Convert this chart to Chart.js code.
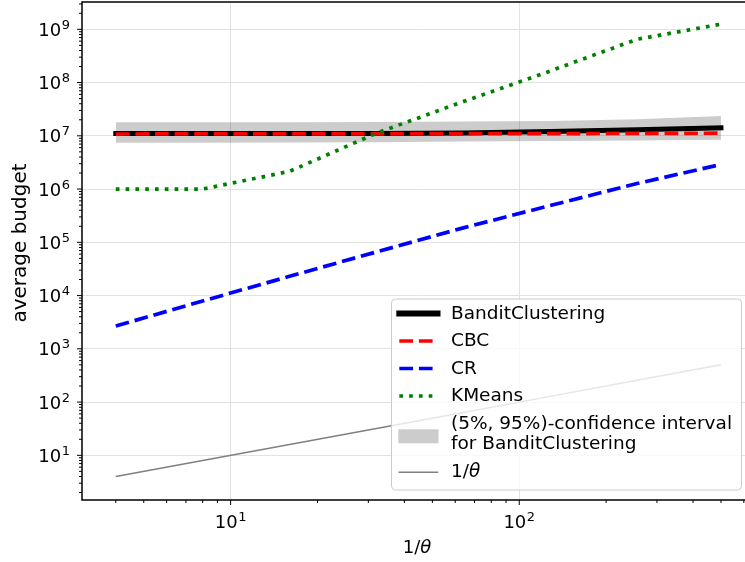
<!DOCTYPE html>
<html>
<head>
<meta charset="utf-8">
<script src="https://cdn.jsdelivr.net/npm/chart.js@4.4.1/dist/chart.umd.min.js"></script>
<style>
  html, body { margin: 0; padding: 0; background: #fff; overflow: hidden; }
  #wrap { width: 745px; height: 562px; overflow: hidden; }
</style>
</head>
<body>
<div id="wrap"><canvas id="chart" width="753" height="562"></canvas></div>
<script>
// x = 1/theta
const thetaInv = [4, 8, 16, 32, 64, 128, 256, 500];
const banditClustering = [1.1e7, 1.1e7, 1.1e7, 1.1e7, 1.13e7, 1.2e7, 1.3e7, 1.42e7];
const cbc = [1.08e7, 1.09e7, 1.09e7, 1.09e7, 1.1e7, 1.1e7, 1.11e7, 1.12e7];
const cr = [2680, 7900, 2.3e4, 6.6e4, 1.87e5, 4.9e5, 1.27e6, 2.9e6];
const kmeans = [1e6, 1e6, 2.15e6, 1.12e7, 4.4e7, 1.65e8, 6.5e8, 1.25e9];
const ciLow = [7.4e6, 7.4e6, 7.5e6, 7.6e6, 7.8e6, 8.0e6, 8.2e6, 8.4e6];
const ciHigh = [1.79e7, 1.8e7, 1.8e7, 1.82e7, 1.85e7, 1.9e7, 2.05e7, 2.35e7];
const oneOverTheta = [4, 8, 16, 32, 64, 128, 256, 500];

const xMajorTicks = [10, 100];
const yMajorTicks = [1e1, 1e2, 1e3, 1e4, 1e5, 1e6, 1e7, 1e8, 1e9];

// axis limits (log scale, matplotlib-like margins; right spine falls just off the page)
const X_MIN = Math.pow(10, 0.485), X_MAX = Math.pow(10, 2.803);
const Y_MIN = Math.pow(10, 0.161), Y_MAX = Math.pow(10, 9.513);

const FONT = 'DejaVu Sans';
const LEGEND_FONT = '18.5px "' + FONT + '"';

function isPow10(v) {
  const l = Math.log10(v);
  return Math.abs(l - Math.round(l)) < 1e-9;
}
// major + minor (2..9 x 10^n) ticks inside [lo, hi]
function logTicks(lo, hi) {
  const out = [];
  for (let e = Math.floor(Math.log10(lo)); e <= Math.ceil(Math.log10(hi)); e++) {
    for (let m = 1; m <= 9; m++) {
      const v = m * Math.pow(10, e);
      if (v >= lo && v <= hi) out.push(v);
    }
  }
  return out;
}

const pts = ys => thetaInv.map((x, i) => ({x: x, y: ys[i]}));

// "10" + raised exponent, like matplotlib's mathtext tick labels
function drawPowLabel(ctx, v, x, baseline, align) {
  const e = String(Math.round(Math.log10(v)));
  ctx.font = '18px "' + FONT + '"';
  const wb = ctx.measureText('10').width;
  ctx.font = '13px "' + FONT + '"';
  const we = ctx.measureText(e).width;
  const total = wb + 0.5 + we;
  const left = align === 'right' ? x - total : x - total / 2;
  ctx.textAlign = 'left';
  ctx.textBaseline = 'alphabetic';
  ctx.font = '18px "' + FONT + '"';
  ctx.fillText('10', left, baseline);
  ctx.font = '13px "' + FONT + '"';
  ctx.fillText(e, left + wb + 0.5, baseline - 7);
}

const axisDecor = {
  id: 'axisDecor',
  afterDraw(chart) {
    const {ctx, chartArea: a, scales: {x, y}} = chart;
    ctx.save();
    ctx.strokeStyle = '#000';
    ctx.lineWidth = 1;
    ctx.beginPath();
    x.ticks.forEach(t => {
      const px = x.getPixelForValue(t.value);
      const len = isPow10(t.value) ? 5 : 3;
      ctx.moveTo(px, a.bottom);
      ctx.lineTo(px, a.bottom + len);
    });
    y.ticks.forEach(t => {
      const py = y.getPixelForValue(t.value);
      const len = isPow10(t.value) ? 5 : 3;
      ctx.moveTo(a.left, py);
      ctx.lineTo(a.left - len, py);
    });
    ctx.stroke();

    // spines
    ctx.lineWidth = 1.5;
    ctx.strokeRect(a.left, a.top, a.right - a.left, a.bottom - a.top);

    // tick labels
    ctx.fillStyle = '#000';
    xMajorTicks.forEach(v => drawPowLabel(ctx, v, x.getPixelForValue(v), a.bottom + 28, 'center'));
    yMajorTicks.forEach(v => drawPowLabel(ctx, v, 70, y.getPixelForValue(v) + 6.5, 'right'));

    // axis titles
    ctx.font = '18px "' + FONT + '"';
    ctx.textBaseline = 'middle';
    ctx.textAlign = 'left';
    const w1 = ctx.measureText('1/').width;
    ctx.font = 'italic 18px "' + FONT + '"';
    const w2 = ctx.measureText('θ').width;
    const tx = 417 - (w1 + w2) / 2;
    ctx.font = '18px "' + FONT + '"';
    ctx.fillText('1/', tx, 548);
    ctx.font = 'italic 18px "' + FONT + '"';
    ctx.fillText('θ', tx + w1, 548);

    ctx.save();
    ctx.font = '20px "' + FONT + '"';
    ctx.translate(21, 243);
    ctx.rotate(-Math.PI / 2);
    ctx.textAlign = 'center';
    ctx.fillText('average budget', 0, 0);
    ctx.restore();
    ctx.restore();

    drawLegend(chart);
  }
};

function roundRectPath(ctx, x, y, w, h, r) {
  ctx.beginPath();
  ctx.moveTo(x + r, y);
  ctx.lineTo(x + w - r, y);
  ctx.arcTo(x + w, y, x + w, y + r, r);
  ctx.lineTo(x + w, y + h - r);
  ctx.arcTo(x + w, y + h, x + w - r, y + h, r);
  ctx.lineTo(x + r, y + h);
  ctx.arcTo(x, y + h, x, y + h - r, r);
  ctx.lineTo(x, y + r);
  ctx.arcTo(x, y, x + r, y, r);
  ctx.closePath();
}

function drawLegend(chart) {
  const ctx = chart.ctx;
  const ds = chart.data.datasets;
  const byLabel = l => ds.find(d => d.label === l);
  ctx.save();
  roundRectPath(ctx, 391.5, 299, 350, 191, 4);
  ctx.fillStyle = 'rgba(255,255,255,0.8)';
  ctx.fill();
  ctx.strokeStyle = '#cccccc';
  ctx.lineWidth = 1;
  ctx.stroke();

  const hx0 = 399.3, hx1 = 437.5, textX = 451;
  const rows = [
    {label: 'BanditClustering', y: 313.5, legendWidth: 6},
    {label: 'CBC', y: 341},
    {label: 'CR', y: 368.5},
    {label: 'KMeans', y: 396}
  ];
  ctx.font = LEGEND_FONT;
  ctx.textBaseline = 'middle';
  ctx.textAlign = 'left';
  rows.forEach(r => {
    const d = byLabel(r.label);
    ctx.beginPath();
    ctx.strokeStyle = d.borderColor;
    ctx.lineWidth = r.legendWidth || d.borderWidth;
    ctx.setLineDash(d.borderDash || []);
    ctx.lineCap = d.borderCapStyle || 'butt';
    ctx.moveTo(hx0, r.y);
    ctx.lineTo(hx1, r.y);
    ctx.stroke();
    ctx.setLineDash([]);
    ctx.fillStyle = '#000';
    ctx.fillText(r.label, textX, r.y + 0.5);
  });

  // confidence band patch
  const band = byLabel('ci');
  ctx.fillStyle = band.backgroundColor;
  ctx.fillRect(hx0 - 1, 429.3, hx1 - hx0 + 2, 14);
  ctx.fillStyle = '#000';
  ctx.fillText('(5%, 95%)-confidence interval', textX, 424.5);
  ctx.fillText('for BanditClustering', textX, 444.5);

  // 1/theta
  const th = byLabel('1/θ');
  ctx.beginPath();
  ctx.strokeStyle = th.borderColor;
  ctx.lineWidth = th.borderWidth;
  ctx.lineCap = 'square';
  ctx.moveTo(hx0, 472.3);
  ctx.lineTo(hx1, 472.3);
  ctx.stroke();
  ctx.fillStyle = '#000';
  const w1 = ctx.measureText('1/').width;
  ctx.fillText('1/', textX, 472.5);
  ctx.font = 'italic ' + LEGEND_FONT;
  ctx.fillText('θ', textX + w1, 472.5);
  ctx.restore();
}

const gridColor = c => (c.tick && isPow10(c.tick.value)) ? '#e2e2e2' : 'rgba(0,0,0,0)';

new Chart(document.getElementById('chart'), {
  type: 'line',
  data: {
    datasets: [
      {label: 'ciLow', data: pts(ciLow), borderColor: 'rgba(0,0,0,0)', borderWidth: 0,
       pointRadius: 0, fill: false, order: 7},
      {label: 'ci', data: pts(ciHigh), borderColor: 'rgba(0,0,0,0)', borderWidth: 0,
       pointRadius: 0, fill: 0, backgroundColor: 'rgba(0,0,0,0.2)', order: 6},
      {label: '1/θ', data: pts(oneOverTheta), borderColor: '#808080', borderWidth: 1.5,
       pointRadius: 0, fill: false, order: 5},
      {label: 'BanditClustering', data: pts(banditClustering), borderColor: '#000000', borderWidth: 5,
       borderCapStyle: 'square', pointRadius: 0, fill: false, order: 4},
      {label: 'CBC', data: pts(cbc), borderColor: '#ff0000', borderWidth: 3.7, borderDash: [13.7, 5.9],
       pointRadius: 0, fill: false, order: 3},
      {label: 'CR', data: pts(cr), borderColor: '#0000ff', borderWidth: 3.7, borderDash: [13.7, 5.9],
       pointRadius: 0, fill: false, order: 2},
      {label: 'KMeans', data: pts(kmeans), borderColor: '#008000', borderWidth: 3.7, borderDash: [3.7, 6.1],
       pointRadius: 0, fill: false, order: 1}
    ]
  },
  options: {
    responsive: false,
    animation: false,
    devicePixelRatio: 1,
    layout: {padding: {top: 2, right: 2, left: 0, bottom: 0}},
    elements: {line: {tension: 0, borderJoinStyle: 'round'}},
    plugins: {legend: {display: false}, tooltip: {enabled: false}},
    scales: {
      x: {
        type: 'logarithmic',
        min: X_MIN, max: X_MAX, bounds: 'data',
        afterBuildTicks: s => { s.ticks = logTicks(X_MIN, X_MAX).map(v => ({value: v})); },
        afterFit: s => { s.height = 62; s.paddingLeft = 0; s.paddingRight = 0; },
        grid: {color: gridColor, lineWidth: 1, drawTicks: false},
        border: {display: false},
        ticks: {display: false, autoSkip: false}
      },
      y: {
        type: 'logarithmic',
        min: Y_MIN, max: Y_MAX, bounds: 'data',
        afterBuildTicks: s => { s.ticks = logTicks(Y_MIN, Y_MAX).map(v => ({value: v})); },
        afterFit: s => { s.width = 82; s.paddingTop = 0; s.paddingBottom = 0; },
        grid: {color: gridColor, lineWidth: 1, drawTicks: false},
        border: {display: false},
        ticks: {display: false, autoSkip: false}
      }
    }
  },
  plugins: [axisDecor]
});
</script>
</body>
</html>
